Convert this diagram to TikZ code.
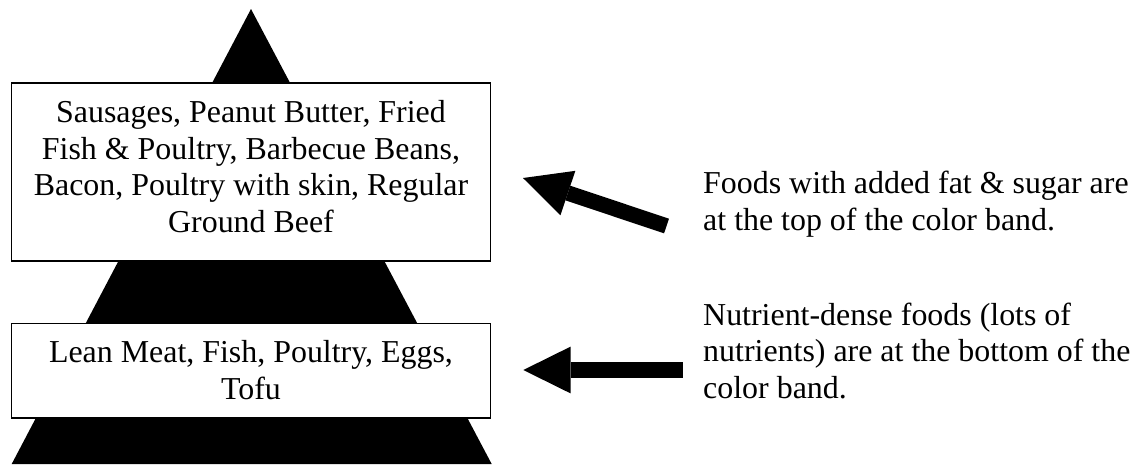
\documentclass[tikz,border=0pt]{standalone}
\usepackage{fontspec}
\setmainfont{Liberation Serif}
\usetikzlibrary{arrows.meta, positioning}

\begin{document}
\begin{tikzpicture}[
        x=0.376pt, y=-0.376pt,
        foodbox/.style = {rectangle, draw=black, line width=0.5pt, fill=white, inner sep=0pt, text width=180.3pt, align=flush center, anchor=north, font=\fontsize{12}{13.8}\selectfont},
        note/.style = {inner sep=0pt, text width=170pt, align=flush left, anchor=base west, font=\fontsize{12}{13.8}\selectfont},
        bigarrow/.style = {line width=5.8pt, -{Triangle[width=17.6pt, length=17.8pt, line width=0pt]}}
    ]

    \useasboundingbox (0,0) rectangle (1142,464);

    % the pyramid behind the boxes
    \coordinate (apex) at (251,9);
    \coordinate (baseleft) at (11.7,464);
    \coordinate (baseright) at (491.7,464);
    \fill[black] (apex) -- (baseleft) -- (baseright) -- cycle;

    \node [foodbox, text height=14.85pt, text depth=52.1pt] (fatbox) at (251,82.2)
        {Sausages, Peanut Butter, Fried\\ Fish \& Poultry, Barbecue Beans,\\ Bacon, Poultry with skin, Regular\\ Ground Beef};
    \node [foodbox, text height=14.7pt, text depth=20.9pt] (densebox) at (251,322.6)
        {Lean Meat, Fish, Poultry, Eggs,\\ Tofu};

    \node [note] (fatnote) at (702.7,193.5)
        {Foods with added fat \& sugar are\\ at the top of the color band.};
    \node [note] (densenote) at (702.7,325)
        {Nutrient-dense foods (lots of\\ nutrients) are at the bottom of the\\ color band.};

    % arrows
    \coordinate (fattail) at (666.5,226);
    \coordinate (fattip) at (523,178);
    \draw [bigarrow] (fattail) -- (fattip);

    \coordinate (densetail) at (682.7,370);
    \coordinate (densetip) at (523.3,370);
    \draw [bigarrow] (densetail) -- (densetip);

\end{tikzpicture}
\end{document}
